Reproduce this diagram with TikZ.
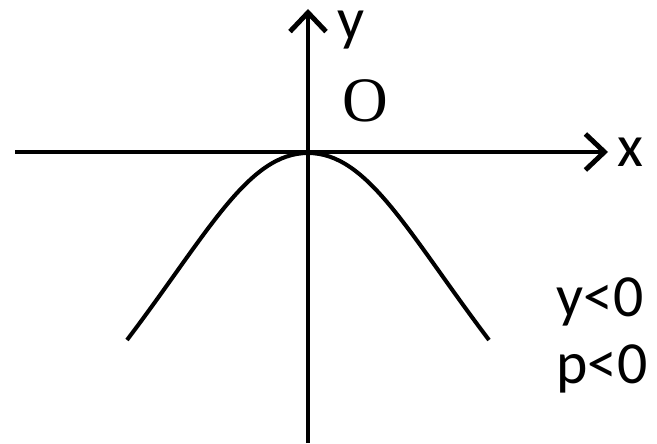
\documentclass[tikz,border=0pt]{standalone}
\usepackage{fontspec}
\setmainfont{Liberation Serif}
\newfontfamily\lblfont{Carlito}
\usetikzlibrary{positioning, arrows.meta}

\begin{document}
\begin{tikzpicture}[
  axis/.style={line width=2.8pt, -{Straight Barb[length=0.38cm, width=0.72cm]}},
  curve/.style={line width=2.3pt},
  lbl/.style={font=\lblfont\fontsize{34}{40}\selectfont, inner sep=0pt, anchor=base west},
  orig/.style={font=\fontsize{36}{40}\selectfont, inner sep=0pt, anchor=base},
]
\useasboundingbox (0,0) rectangle (13.14,8.86);

\coordinate (xl) at (0.3, 5.82);
\coordinate (xr) at (12.16, 5.82);
\coordinate (yb) at (6.16, 0);
\coordinate (yt) at (6.16, 8.68);
\coordinate (o)  at (6.16, 5.80);
\coordinate (pl) at (2.54, 2.06);
\coordinate (pr) at (9.78, 2.06);

\draw[axis] (xl) -- (xr);
\draw[axis] (yb) -- (yt);

% parabola opening downward
\draw[curve] (pl) .. controls (4.16, 4.2) and (4.96, 5.80) .. (o)
             .. controls (7.36, 5.80) and (8.16, 4.2) .. (pr);

\node[lbl, text height=0.5em] (ylbl) at (6.74, 8.06) {y};
\node[lbl] (xlbl) at (12.34, 5.52) {x};
\node[orig] (olbl) at (7.3, 6.42) {O};
\node[lbl] (ylt) at (11.12, 2.54) {y<0};
\node[lbl] (plt) at (11.12, 1.2) {p<0};
\end{tikzpicture}
\end{document}
